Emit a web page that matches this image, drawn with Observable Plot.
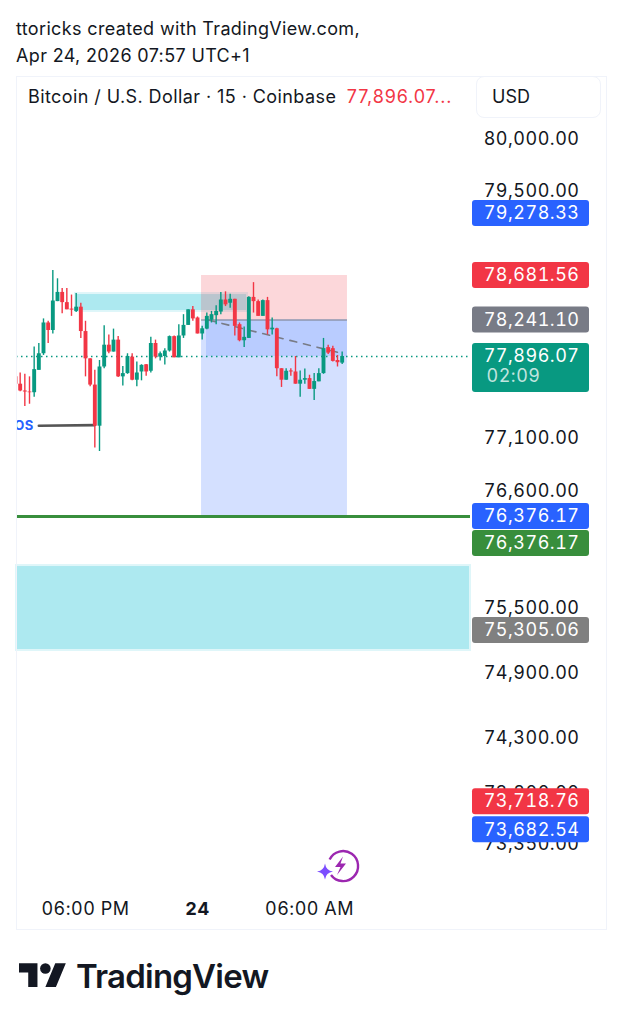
<!DOCTYPE html>
<html>
<head>
<meta charset="utf-8">
<script src="https://cdn.jsdelivr.net/npm/d3@7"></script>
<script src="https://cdn.jsdelivr.net/npm/@observablehq/plot@0.6"></script>
<style>
  html, body { margin: 0; background: #fff; }
  body { width: 622px; height: 1024px; position: relative; overflow: hidden; font-family: Inter, sans-serif; color: #131722; }
  #head { position: absolute; left: 16px; top: 15px; font-size: 18px; line-height: 27px; letter-spacing: .35px; }
  #pane { position: absolute; left: 16px; top: 76px; width: 589px; height: 852px; border: 1px solid #f0f3fa; pointer-events: none; }
  #chart { position: absolute; left: 0; top: 76px; }
  #legend { position: absolute; left: 28px; top: 86px; font-size: 18px; white-space: nowrap; line-height: 22px; letter-spacing: .42px; }
  #legend span { color: #f23645; margin-left: 5px; letter-spacing: .85px; }
  #usd { position: absolute; left: 476px; top: 76px; width: 123px; height: 40px; border: 1px solid #f0f3fa; border-radius: 8px; font-size: 18px; line-height: 40px; text-indent: 15px; background: #fff; }
  #boost { position: absolute; left: 316px; top: 848px; }
  #logo { position: absolute; left: 19px; top: 958px; }
  #brand { position: absolute; left: 76px; top: 955px; font-size: 33px; line-height: 42px; font-weight: 600; color: #131722; letter-spacing: -0.8px; }
</style>
</head>
<body>
<div id="head">ttoricks created with TradingView.com,<br>Apr 24, 2026 07:57 UTC+1</div>
<div id="chart"></div>
<div id="pane"></div>
<div id="legend">Bitcoin / U.S. Dollar · 15 · Coinbase <span>77,896.07...</span></div>
<div id="usd">USD</div>
<svg id="boost" width="46" height="38" viewBox="0 0 46 38">
  <path d="M13.6 11.5 A15 15 0 1 1 15 27" fill="none" stroke="#9c27b0" stroke-width="2.4"/>
  <path d="M27 8.5 L19 19 H24.5 L21 27 L30 15.5 H24.5 Z" fill="#9c27b0"/>
  <path d="M9 15.5 Q10 22.5 17 23.5 Q10 24.5 9 31.5 Q8 24.5 1 23.5 Q8 22.5 9 15.5 Z" fill="#7c4dff"/>
</svg>
<svg id="logo" width="48" height="32" viewBox="0 0 36.4 24.2">
  <path d="M14 22H7V11H0V4h14v18zM28 22h-8l7.5-18h8L28 22z" fill="#131722"/><circle cx="20" cy="8" r="4" fill="#131722"/>
</svg>
<div id="brand">TradingView</div>
<script>
// 15-minute candles, Bitcoin / U.S. Dollar (Coinbase), times shown in UTC+1
const open  = [77696,77624,77557,77547,77540,77760,77922,78213,78142,78423,78514,78413,78349,78326,78368,78132,77873,77615,77211,77793,78003,77938,78051,77696,77728,77890,77663,77744,77815,77751,78019,77890,77896,77948,78084,77883,78090,78190,78342,78261,78109,78155,78239,78284,78320,78439,78407,78446,78197,78045,78067,78465,78423,78277,78433,78148,78158,77776,77663,77754,77744,77624,77663,77679,77573,77647,77728,77980,77970,77857,77831];
const high  = [77702,77734,77721,77696,77987,78019,78252,78229,78730,78649,78552,78552,78488,78504,78407,78229,77873,77760,77857,78187,78100,78155,78084,77799,77922,77922,77841,77815,77818,78077,78051,77938,77970,78090,78090,78197,78294,78342,78374,78271,78181,78310,78326,78381,78514,78520,78497,78446,78213,78174,78471,78611,78439,78439,78465,78261,78164,77776,77776,77776,77896,77754,77773,77712,77728,77776,78067,78003,77993,77906,77938];
const low   = [77615,77550,77405,77427,77495,77760,77906,78019,78109,78423,78303,78342,78277,78316,78067,77696,77599,77000,76968,77776,77922,77938,77689,77605,77721,77657,77599,77657,77702,77734,77873,77851,77812,77938,77883,77883,78067,78190,78229,78109,78051,78148,78213,78197,78294,78374,78358,78090,78035,77980,78067,78310,78277,78277,78100,78100,77696,77592,77663,77702,77624,77495,77624,77573,77463,77647,77721,77915,77841,77793,77818];
const close = [77624,77557,77547,77540,77767,77922,78213,78142,78429,78514,78413,78342,78339,78368,78132,77873,77615,77211,77793,78003,77938,78051,77696,77728,77896,77663,77734,77809,77744,78019,77890,77922,77948,78084,77883,78090,78190,78342,78252,78109,78158,78277,78294,78326,78439,78391,78446,78181,78045,78077,78465,78423,78277,78433,78148,78164,77776,77663,77751,77744,77624,77663,77679,77573,77650,77728,77970,77928,77848,77835,77896];

const priceTicks  = [80000,79500,77100,76600,75500,74900,74300,73800,73350];
const timeTicks   = ["2026-04-23T18:00Z","2026-04-24T06:00Z"];
const timeLabels  = ["06:00 PM","06:00 AM"];
const dayTick     = "2026-04-24T00:00Z";
const dayLabel    = "24";

const lastPrice = 77896.07;
const target    = 76376.17;
const entry     = 78241.10;
const stop      = 78681.56;
const zoneLow   = [75112, 75904];
const zoneHigh  = [78325, 78503];

const tagPrices = [79278.33,78681.56,78241.10,76376.17,76376.17,75305.06,73718.76,73682.54];
const tagFills  = ["#2962ff","#f23645","#787b86","#2962ff","#388e3c","#808080","#f23645","#2962ff"];
const tagShift  = [0,0,0,0,27,0,0,24];

const start = Date.UTC(2026,3,23,14,15);
const candles = open.map((o,i)=>({t:new Date(start+i*9e5),open:o,high:high[i],low:low[i],close:close[i]}));
const T = s => new Date(s);
const fmt = d3.format(",.2f");

const UP="#089981", DOWN="#f23645";
const col = d=> d.close>=d.open ? UP : DOWN;
const posStart="2026-04-24T00:13Z", posEnd="2026-04-24T08:02Z";

function tag(price, fill, shift) {
  return [
    Plot.rect([price], {y1:d=>d, y2:d=>d, fill, rx:3, insetLeft:456, insetRight:-119, insetTop:-13+shift, insetBottom:-13-shift}),
    Plot.text([price], {y:d=>d, text:d=>fmt(d), frameAnchor:"right", textAnchor:"end", dx:109, dy:shift, fill:"#fff", fontSize:18})
  ];
}

const plot = Plot.plot({
  width:622, height:854,
  marginLeft:16, marginRight:152, marginTop:0, marginBottom:0,
  style:{fontFamily:"Inter, sans-serif", background:"transparent", overflow:"visible", letterSpacing:"0.5px", fontVariantNumeric:"tabular-nums"},
  x:{type:"utc", domain:[T("2026-04-23T18:00Z"),T("2026-04-24T06:00Z")], range:[85,309], axis:null},
  y:{type:"linear",
     domain:[80000,79500,78681.56,78241.10,77896.07,77100,76600,76376.17,75500,75305.06,74900,74300,73800,73350],
     range:[62,114,199,243.5,280,361,414,440,531,554,596,661,716,767], axis:null},
  marks:[
    // supply / demand zones
    Plot.rect([zoneLow],{y1:d=>d[0],y2:d=>d[1],fill:"#ade9f0",stroke:"#dff6f9",strokeWidth:2}),
    Plot.rect([zoneHigh],{x1:()=>T("2026-04-23T17:28Z"),x2:()=>T("2026-04-24T02:41Z"),y1:d=>d[0],y2:d=>d[1],fill:"#ade9f0",stroke:"#dff6f9",strokeWidth:2}),
    // short position tool
    Plot.rect([0],{x1:()=>T(posStart),x2:()=>T(posEnd),y1:()=>stop,y2:()=>entry,fill:"#f23645",fillOpacity:.2}),
    Plot.rect([0],{x1:()=>T(posStart),x2:()=>T(posEnd),y1:()=>entry,y2:()=>target,fill:"#2962ff",fillOpacity:.2}),
    Plot.rect([0],{x1:()=>T("2026-04-24T00:29Z"),x2:()=>T(posEnd),y1:()=>entry,y2:()=>lastPrice,fill:"#2962ff",fillOpacity:.16}),
    Plot.ruleY([entry],{x1:()=>T(posStart),x2:()=>T(posEnd),stroke:"#787b86",strokeWidth:1}),
    Plot.line([{t:"2026-04-24T00:35Z",p:78241},{t:"2026-04-24T07:45Z",p:77925}],{x:d=>T(d.t),y:"p",stroke:"#787b86",strokeWidth:1.6,strokeDasharray:"7 7"}),
    // take-profit line and last-price line
    Plot.ruleY([target],{stroke:"#388e3c",strokeWidth:3}),
    Plot.ruleY([lastPrice],{stroke:UP,strokeWidth:1.5,strokeDasharray:"1.5 3.5"}),
    // BOS
    Plot.line([{t:"2026-04-23T15:30Z",p:77215},{t:"2026-04-23T18:30Z",p:77222}],{x:d=>T(d.t),y:"p",stroke:"#555",strokeWidth:2.6}),
    Plot.text(["BOS"],{x:()=>T("2026-04-23T15:30Z"),y:()=>77215,text:d=>d,textAnchor:"end",dx:-5,fill:"#2962ff",fontSize:13,fontWeight:700,clip:true}),
    // candles
    Plot.ruleX(candles,{x:"t",y1:"low",y2:"high",stroke:col,strokeWidth:1.4,clip:true}),
    Plot.ruleX(candles,{x:"t",y1:"open",y2:"close",stroke:col,strokeWidth:3.9,clip:true}),
    // price axis labels
    Plot.text(priceTicks,{y:d=>d,text:fmt,frameAnchor:"right",textAnchor:"end",dx:109,dy:1,fill:"#131722",fontSize:18}),
    // time axis labels
    Plot.text(timeTicks,{x:T,text:(d,i)=>timeLabels[i],frameAnchor:"bottom",lineAnchor:"middle",dy:-21,fill:"#131722",fontSize:18}),
    Plot.text([dayTick],{x:T,text:()=>dayLabel,frameAnchor:"bottom",lineAnchor:"middle",dy:-21,fill:"#131722",fontSize:18,fontWeight:700}),
    // price tags
    ...tagPrices.flatMap((p,i)=>tag(p,tagFills[i],tagShift[i])),
    Plot.rect([lastPrice],{y1:d=>d,y2:d=>d,fill:UP,rx:3,insetLeft:456,insetRight:-119,insetTop:-13,insetBottom:-36}),
    Plot.text([lastPrice],{y:d=>d,text:fmt,frameAnchor:"right",textAnchor:"end",dx:109,fill:"#fff",fontSize:18}),
    Plot.text(["02:09"],{y:()=>lastPrice,text:d=>d,frameAnchor:"right",textAnchor:"start",dx:16,dy:20,fill:"#fff",fillOpacity:.75,fontSize:18})
  ]
});
document.getElementById("chart").appendChild(plot);
</script>
</body>
</html>
